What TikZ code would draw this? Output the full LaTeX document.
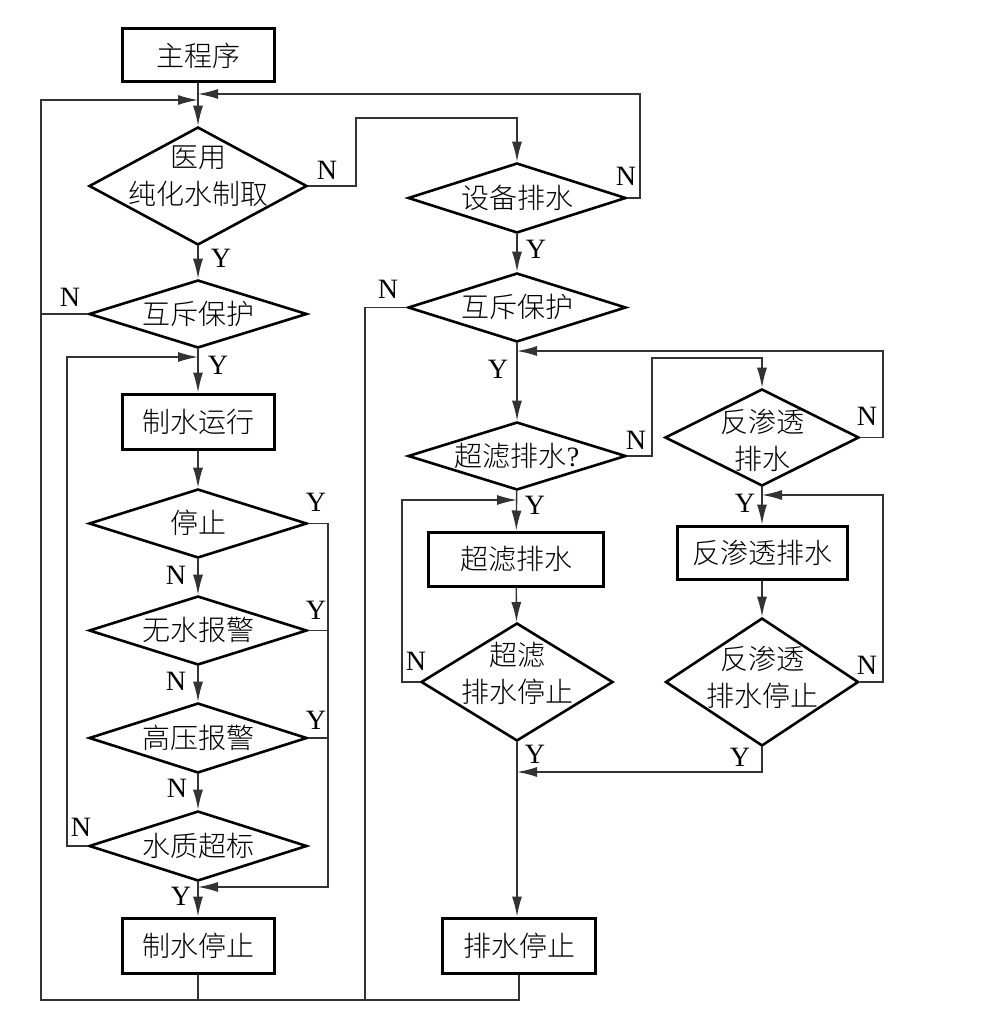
\documentclass[tikz,border=0pt]{standalone}
\usepackage{fontspec}
\setmainfont{Noto Sans CJK SC}[UprightFont = * Light]
\newfontfamily\ynfont{Liberation Serif}
\usetikzlibrary{shapes.geometric,arrows.meta}
\newcommand{\dtxt}[2][-5pt]{\makebox[0pt]{\smash{\raisebox{#1}{\begin{tabular}{@{}c@{}}#2\end{tabular}}}}}

\begin{document}
\begin{tikzpicture}[x = 0.5pt, y = -0.5pt,
    block/.style = {draw, rectangle, line width = 1.5pt, inner sep = 0pt, font = \fontsize{14}{18.5}\selectfont},
    decision/.style = {draw, diamond, line width = 1.3pt, inner sep = 0pt, font = \fontsize{14}{18.5}\selectfont},
    wire/.style = {draw = black!80, line width = 0.7pt},
    arr/.style = {-{Latex[length = 10pt, width = 5pt]}},
    yn/.style = {inner sep = 0pt, font = \ynfont\fontsize{14}{17}\selectfont}]
    \useasboundingbox (0,0) rectangle (1001,1016);

    % left column
    \node[block, minimum width = 76pt, minimum height = 26.5pt] (main) at (198,55.5) {主程序};
    \node[decision, minimum width = 109pt, minimum height = 59pt] (pure) at (198,186) {\dtxt[0pt]{医用\\纯化水制取}};
    \node[decision, minimum width = 109pt, minimum height = 34pt] (mutex1) at (198,314) {\dtxt{互斥保护}};
    \node[block, minimum width = 76pt, minimum height = 27.5pt] (run) at (198,421.5) {制水运行};
    \node[decision, minimum width = 109pt, minimum height = 34.5pt] (stop) at (198,523.5) {\dtxt{停止}};
    \node[decision, minimum width = 109pt, minimum height = 34.5pt] (nowater) at (198,630.5) {\dtxt{无水报警}};
    \node[decision, minimum width = 109pt, minimum height = 35pt] (hp) at (198,738) {\dtxt{高压报警}};
    \node[decision, minimum width = 109pt, minimum height = 35pt] (wq) at (198,846) {\dtxt{水质超标}};
    \node[block, minimum width = 76pt, minimum height = 27.5pt] (mstop) at (198,945.5) {制水停止};

    % middle column
    \node[decision, minimum width = 109pt, minimum height = 35pt] (drain) at (517,198) {\dtxt{设备排水}};
    \node[decision, minimum width = 109pt, minimum height = 34.5pt] (mutex2) at (517,307.5) {\dtxt{互斥保护}};
    \node[decision, minimum width = 109pt, minimum height = 34pt] (uf) at (517,456) {\dtxt{超滤排水{\ynfont ?}}};
    \node[block, minimum width = 87.5pt, minimum height = 27pt] (ufbox) at (516,559) {超滤排水};
    \node[decision, minimum width = 96pt, minimum height = 59pt] (ufstop) at (517,682) {\dtxt[-1pt]{超滤\\排水停止}};
    \node[block, minimum width = 76.5pt, minimum height = 27.5pt] (dstop) at (519,945.5) {排水停止};

    % right column
    \node[decision, minimum width = 97pt, minimum height = 48.5pt] (ro) at (762,437.5) {\dtxt[-6.5pt]{反渗透\\排水}};
    \node[block, minimum width = 85pt, minimum height = 26.5pt] (robox) at (762,552.5) {反渗透排水};
    \node[decision, minimum width = 96.5pt, minimum height = 64pt] (rostop) at (762,682) {\dtxt[-3pt]{反渗透\\排水停止}};

    \coordinate (j1) at (198,100);
    \coordinate (j2) at (198,94);
    \coordinate (j3) at (198,357);
    \coordinate (j4) at (198,887);
    \coordinate (j5) at (517,351);
    \coordinate (j6) at (517,500);
    \coordinate (j7) at (762,495);
    \coordinate (j8) at (517,772);
    \coordinate (bl) at (41,1000);
    \coordinate (bm) at (365,1000);

    \draw[wire, arr] (main) -- (pure);
    \draw[wire, arr] (pure) -- (mutex1);
    \draw[wire, arr] (pure.east) -- (356,186) -- (356,118) -- (517,118) -- (drain.north);
    \draw[wire, arr] (drain.east) -- (640,198) -- (640,94) -- (j2);
    \draw[wire, arr] (drain) -- (mutex2);
    \draw[wire, arr] (mutex1.west) -- (41,314) -- (41,100) -- (j1);
    \draw[wire] (mstop) -- (198,1000) -- (bl) -- (41,314);
    \draw[wire] (dstop.south) |- (bl);
    \draw[wire] (mutex2.west) -- (bm |- mutex2.west) -- (bm);

    \draw[wire, arr] (mutex1) -- (run);
    \draw[wire, arr] (run) -- (stop);
    \draw[wire, arr] (stop) -- (nowater);
    \draw[wire, arr] (nowater) -- (hp);
    \draw[wire, arr] (hp) -- (wq);
    \draw[wire, arr] (wq) -- (mstop);
    \draw[wire, arr] (stop.east) -- (328,523.5) -- (328,887) -- (j4);
    \draw[wire] (nowater.east) -- (328,630.5);
    \draw[wire] (hp.east) -- (328,738);
    \draw[wire, arr] (wq.west) -- (67,846) -- (67,357) -- (j3);

    \draw[wire, arr] (mutex2) -- (uf);
    \draw[wire, arr] (ro.east) -- (883,437.5) -- (883,351) -- (j5);
    \draw[wire, arr] (uf.east) -- (652,456) -- (652,358) -- (762,358) -- (ro.north);
    \draw[wire, arr] (uf) -- (ufbox);
    \draw[wire, arr] (ufstop.west) -- (402,682) -- (402,500) -- (j6);
    \draw[wire, arr] (ufbox) -- (ufstop);
    \draw[wire, arr] (ufstop.south) -- (ufstop.south |- dstop.north);
    \draw[wire, arr] (rostop.south) -- (762,772) -- (j8);
    \draw[wire, arr] (ro) -- (robox);
    \draw[wire, arr] (rostop.east) -- (883,682) -- (883,495) -- (j7);
    \draw[wire, arr] (robox) -- (rostop);

    % Y / N
    \node[yn] (ypure) at (221,258) {Y};
    \node[yn] (npure) at (327,170) {N};
    \node[yn] (nmutex1) at (70,297) {N};
    \node[yn] (ymutex1) at (218,365) {Y};
    \node[yn] (ystop) at (316,502) {Y};
    \node[yn] (nstop) at (176,575) {N};
    \node[yn] (ynowater) at (316,610) {Y};
    \node[yn] (nnowater) at (176,681) {N};
    \node[yn] (yhp) at (316,720) {Y};
    \node[yn] (nhp) at (177,788) {N};
    \node[yn] (nwq) at (81,827) {N};
    \node[yn] (ywq) at (181,896) {Y};
    \node[yn] (ndrain) at (626,176) {N};
    \node[yn] (ydrain) at (536,249) {Y};
    \node[yn] (nmutex2) at (388,289) {N};
    \node[yn] (ymutex2) at (498,369) {Y};
    \node[yn] (nuf) at (636,440) {N};
    \node[yn] (yuf) at (535,505) {Y};
    \node[yn] (nro) at (867,416) {N};
    \node[yn] (yro) at (745,503) {Y};
    \node[yn] (nufstop) at (416,661) {N};
    \node[yn] (yufstop) at (535,754) {Y};
    \node[yn] (nrostop) at (867,665) {N};
    \node[yn] (yrostop) at (740,757) {Y};
\end{tikzpicture}
\end{document}
